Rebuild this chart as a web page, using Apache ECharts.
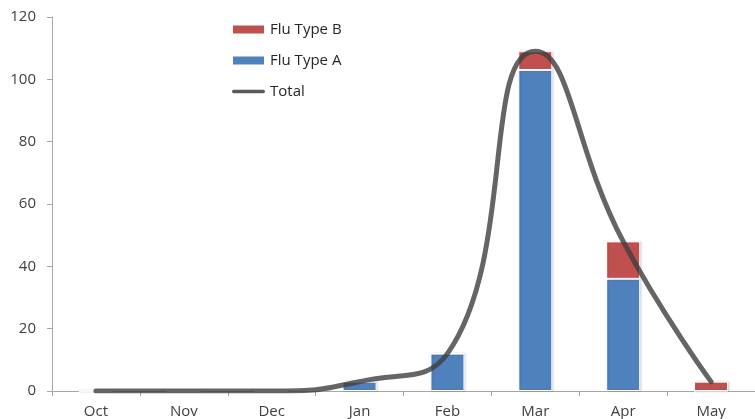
<!DOCTYPE html>
<html><head><meta charset="utf-8">
<script src="https://cdn.jsdelivr.net/npm/echarts@6/dist/echarts.min.js"></script>
<style>html,body{margin:0;padding:0;background:#fff}#c{width:755px;height:419px}</style>
</head><body><div id="c"></div>
<script>
var months = ['Oct','Nov','Dec','Jan','Feb','Mar','Apr','May'];
var fluA = [0,0,0,3,12,103,36,0];
var fluB = [0,0,0,0,0,6,12,3];
var total = [0,0,0,3,12,109,48,3];
var yTicks = {min:0, max:120, interval:20};

var chart = echarts.init(document.getElementById('c'));
var font = '"Open Sans", "Noto Sans", sans-serif';
chart.setOption({
  animation:false,
  textStyle:{fontFamily:font},
  legend:{
    orient:'vertical', left:226, top:17, itemGap:16, itemWidth:33, itemHeight:10,
    textStyle:{fontSize:15, color:'#262626', fontFamily:font},
    data:[
      {name:'Flu Type B', icon:'rect'},
      {name:'Flu Type A', icon:'rect'},
      {name:'Total', icon:'path://M5,0 L95,0 A5,5 0 0 1 95,10 L5,10 A5,5 0 0 1 5,0 Z', itemStyle:{color:'#595959'}}
    ]
  },
  grid:{left:52, top:17, width:707, height:374, containLabel:false},
  xAxis:{
    type:'category', data:months, boundaryGap:true,
    axisLine:{lineStyle:{color:'#a6a6a6', width:1}},
    axisTick:{show:true, length:5, alignWithLabel:false, lineStyle:{color:'#a6a6a6'}},
    axisLabel:{fontSize:15, color:'#404040', margin:13, fontFamily:font}
  },
  yAxis:{
    type:'value', min:yTicks.min, max:yTicks.max, interval:yTicks.interval,
    splitLine:{show:false},
    axisLine:{show:true, lineStyle:{color:'#a6a6a6'}},
    axisTick:{show:true, length:5, lineStyle:{color:'#a6a6a6'}},
    axisLabel:{fontSize:15, color:'#404040', margin:16, fontFamily:font}
  },
  series:[
    {name:'Flu Type A', type:'bar', stack:'flu', data:fluA, barWidth:34,
     itemStyle:{color:'#4F81BD', borderColor:'#ffffff', borderWidth:1, shadowColor:'rgba(0,0,0,0.15)', shadowBlur:2, shadowOffsetX:1}},
    {name:'Flu Type B', type:'bar', stack:'flu', data:fluB, barWidth:34,
     itemStyle:{color:'#C0504D', borderColor:'#ffffff', borderWidth:1, shadowColor:'rgba(0,0,0,0.15)', shadowBlur:2, shadowOffsetX:1}},
    {name:'Total', type:'line', data:total, smooth:0.5, symbol:'none', z:5,
     lineStyle:{color:'#3f3f3f', width:5, opacity:0.8, cap:'round'},
     itemStyle:{color:'#595959'}}
  ]
});
</script></body></html>
